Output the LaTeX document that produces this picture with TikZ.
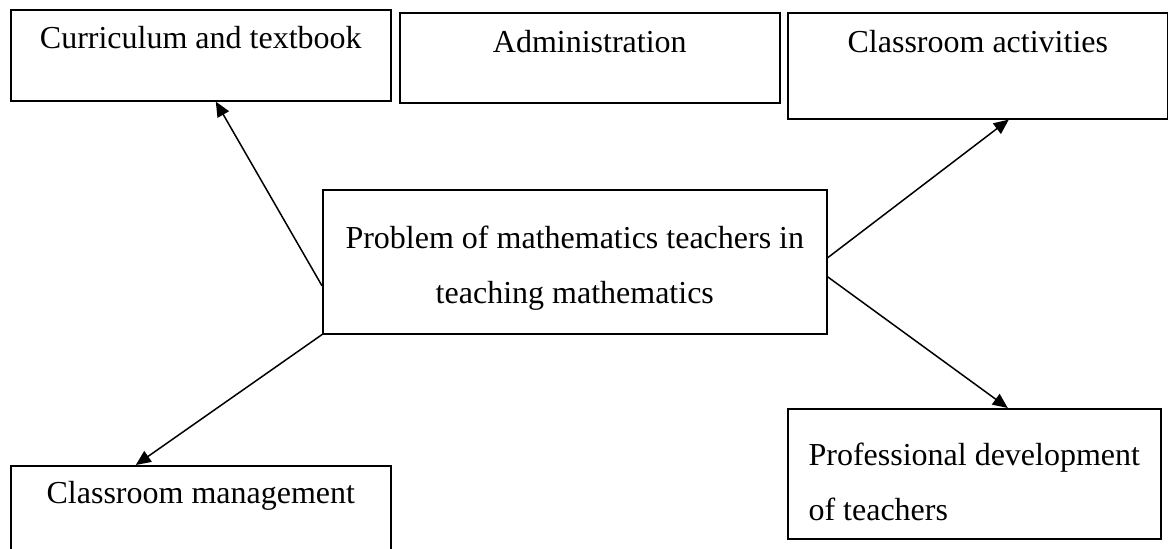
\documentclass[tikz,border=0pt]{standalone}
\usepackage{fontspec}
\setmainfont{Liberation Serif}
\usetikzlibrary{arrows.meta}

\begin{document}
\begin{tikzpicture}[
  box/.style={draw, line width=0.8pt, inner xsep=0pt, inner ysep=0pt, anchor=north west, font=\fontsize{16}{27.5}\selectfont},
  arr/.style={line width=0.75pt, -{Triangle[length=7.5pt,width=6.5pt]}}]
  \useasboundingbox (0,0) rectangle (584pt,-274.5pt);
  % top row
  \node[box, minimum width=190pt, text height=19.5pt, text depth=26pt] (curr) at (5pt,-4.5pt) {Curriculum and textbook};
  \node[box, minimum width=190pt, text height=20pt, text depth=25pt] (admin) at (199.5pt,-6pt) {Administration};
  \node[box, minimum width=190pt, text height=20pt, text depth=33pt] (act) at (393.5pt,-6pt) {Classroom activities};
  % middle
  \node[box, align=center, minimum width=252pt, text height=57pt, text depth=15pt] (prob) at (161pt,-94.5pt) {Problem of mathematics teachers in\\teaching mathematics};
  % bottom row
  \node[box, minimum width=190pt, text height=19pt, text depth=40pt] (mgmt) at (5pt,-232.5pt) {Classroom management};
  \node[box, align=left, minimum width=186.5pt, text height=56pt, text depth=9pt] (prof) at (393.5pt,-204pt) {Professional development\\of teachers};
  \draw[arr] ([yshift=-12pt]prob.west) -- ([xshift=7.5pt]curr.south);
  \draw[arr] ([yshift=2pt]prob.east) -- ([xshift=15.5pt]act.south);
  \draw[arr] ([yshift=-7.5pt]prob.east) -- ([xshift=16.75pt]prof.north);
  \draw[arr] (prob.south west) -- ([xshift=-32.5pt]mgmt.north);
\end{tikzpicture}
\end{document}
